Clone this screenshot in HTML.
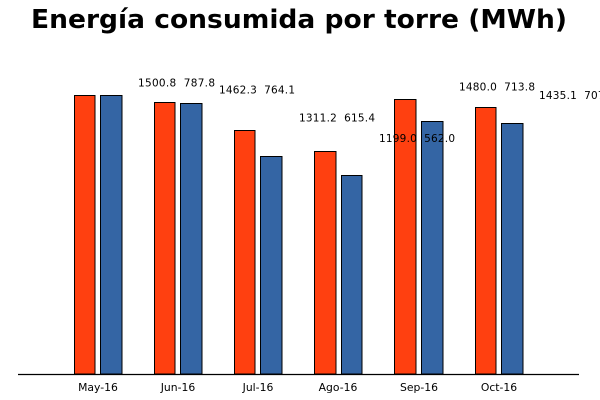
<!DOCTYPE html>
<html>
<head>
<meta charset="utf-8">
<style>
html,body{margin:0;padding:0;background:#fff;}
svg{display:block;}
.lbl{white-space:pre;}
</style>
</head>
<body>
<svg width="600" height="400" xmlns="http://www.w3.org/2000/svg">
<rect width="600" height="400" fill="#fff"/>
<text x="299" y="28" text-anchor="middle" font-family="DejaVu Sans, Liberation Sans, sans-serif" font-weight="bold" font-size="25.5" textLength="536" lengthAdjust="spacingAndGlyphs" fill="#000">Energía consumida por torre (MWh)</text>
<g stroke="#000" stroke-width="1">
<rect x="74.5" y="95.5" width="20.5" height="278.5" fill="#FF4010"/>
<rect x="100.5" y="95.5" width="21.5" height="278.5" fill="#3465A4"/>
<rect x="154.5" y="102.5" width="20.5" height="271.5" fill="#FF4010"/>
<rect x="180.5" y="103.5" width="21.5" height="270.5" fill="#3465A4"/>
<rect x="234.5" y="130.5" width="20.5" height="243.5" fill="#FF4010"/>
<rect x="260.5" y="156.5" width="21.5" height="217.5" fill="#3465A4"/>
<rect x="314.5" y="151.5" width="21.5" height="222.5" fill="#FF4010"/>
<rect x="341.5" y="175.5" width="20.5" height="198.5" fill="#3465A4"/>
<rect x="394.5" y="99.5" width="21.5" height="274.5" fill="#FF4010"/>
<rect x="421.5" y="121.5" width="21.5" height="252.5" fill="#3465A4"/>
<rect x="475.5" y="107.5" width="20.5" height="266.5" fill="#FF4010"/>
<rect x="501.5" y="123.5" width="21.5" height="250.5" fill="#3465A4"/>
</g>
<line x1="18" y1="374.5" x2="579" y2="374.5" stroke="#000" stroke-width="1.2"/>
<g font-family="DejaVu Sans, Liberation Sans, sans-serif" font-size="10.5" fill="#000">
<text class="lbl" x="138" y="86.5" textLength="77" lengthAdjust="spacing">1500.8  787.8</text>
<text class="lbl" x="219" y="93.5" textLength="76" lengthAdjust="spacing">1462.3  764.1</text>
<text class="lbl" x="299" y="121.5" textLength="76" lengthAdjust="spacing">1311.2  615.4</text>
<text class="lbl" x="379" y="142" textLength="76" lengthAdjust="spacing">1199.0  562.0</text>
<text class="lbl" x="459" y="90.5" textLength="76" lengthAdjust="spacing">1480.0  713.8</text>
<text class="lbl" x="539" y="99" textLength="76" lengthAdjust="spacing">1435.1  707.0</text>
</g>
<g font-family="DejaVu Sans, Liberation Sans, sans-serif" font-size="10.8" fill="#000" text-anchor="middle">
<text x="98" y="391">May-16</text>
<text x="178" y="391">Jun-16</text>
<text x="258" y="391">Jul-16</text>
<text x="338" y="391">Ago-16</text>
<text x="419" y="391">Sep-16</text>
<text x="499" y="391">Oct-16</text>
</g>
</svg>
</body>
</html>
